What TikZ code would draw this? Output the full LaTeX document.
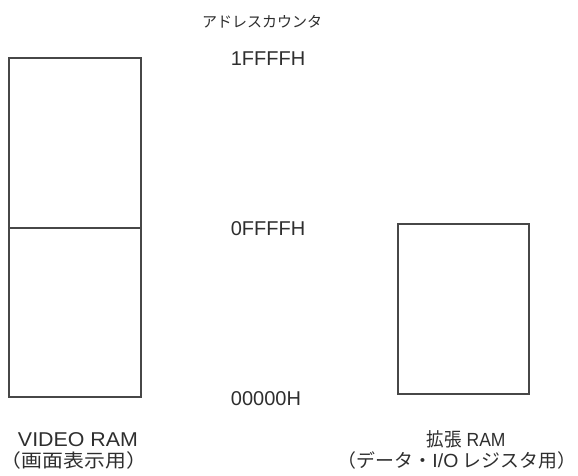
\documentclass[tikz,border=0pt]{standalone}
\usepackage{fontspec}
\setmainfont{Liberation Sans}
\newfontfamily\jpfont{Noto Sans CJK JP}
\tikzset{
  membox/.style={draw=black!72, line width=1.4pt, inner sep=0pt, fill=none},
  lbl/.style={text=black!82, inner sep=0pt, anchor=base, font=\fontsize{20}{24}\selectfont},
  jlbl/.style={text=black!82, inner sep=0pt, anchor=base, font=\jpfont\fontsize{18.5}{20}\selectfont},
}
\begin{document}
\begin{tikzpicture}[x=1pt,y=-1pt]
\useasboundingbox (0,0) rectangle (578,475);
% memory blocks
\node[membox, minimum width=132pt, minimum height=170pt] (vramhi) at (75,143) {};
\node[membox, minimum width=132pt, minimum height=169pt] (vramlo) at (75,312.5) {};
\node[membox, minimum width=131pt, minimum height=170pt] (extram) at (463.5,309) {};
% address counter labels
\node[jlbl, font=\jpfont\fontsize{15}{18}\selectfont] (ctr) at (262,27) {アドレスカウンタ};
\node[lbl] (a1) at (268,65) {1FFFFH};
\node[lbl] (a2) at (268,235) {0FFFFH};
\node[lbl] (a3) at (266,405) {00000H};
% captions
\node[lbl] (vname) at (78,446) {\resizebox{120pt}{\height}{VIDEO RAM}};
\node[jlbl] (vuse) at (79,467) {\hspace{-10pt}\resizebox{146pt}{\height}{（画面表示用）}\hspace{-10pt}};
\node[lbl] (ename) at (466,446) {\resizebox{79pt}{\height}{{\jpfont\fontsize{19}{20}\selectfont 拡張} {\fontsize{19}{20}\selectfont RAM}}};
\node[jlbl] (euse) at (464,467) {\hspace{-14pt}\resizebox{238pt}{\height}{（データ・{\fontspec{Liberation Sans}\fontsize{19}{20}\selectfont I/O} レジスタ用）}\hspace{-14pt}};
\end{tikzpicture}
\end{document}
